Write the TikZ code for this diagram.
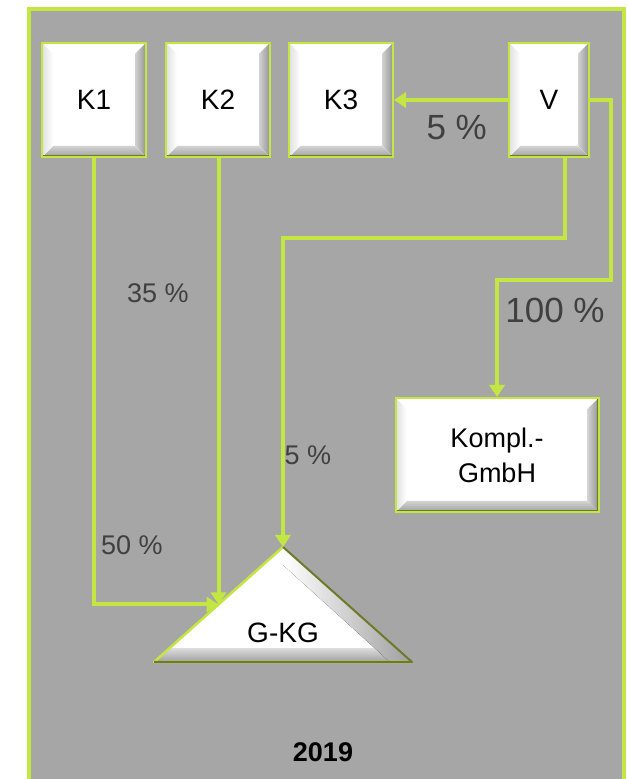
\documentclass[tikz,border=0pt]{standalone}
\usepackage{fontspec}
\setmainfont{Liberation Sans}
\usetikzlibrary{positioning,calc,arrows.meta}

\definecolor{framegreen}{RGB}{196,230,66}
\definecolor{bggray}{RGB}{166,166,166}
\definecolor{labelgray}{RGB}{64,64,64}
\definecolor{edgeolive}{RGB}{110,122,40}

\tikzset{
  firm/.style={draw=framegreen, line width=2pt, fill=white,
    minimum width=104pt, minimum height=114pt, inner sep=0pt,
    font=\fontsize{28}{35}\selectfont,
    path picture={
      \path (path picture bounding box.south west) coordinate (bsw)
            (path picture bounding box.north east) coordinate (bne);
      % bevel: bottom, right and left faces
      \fill[top color=gray!35, bottom color=gray!75]
        (bsw) -- (bsw -| bne) -- ($(bsw -| bne)+(-11,11)$) -- ($(bsw)+(11,11)$) -- cycle;
      \fill[left color=gray!35, right color=gray!85]
        (bsw -| bne) -- (bne) -- ($(bne)+(-11,-11)$) -- ($(bsw -| bne)+(-11,11)$) -- cycle;
      \fill[left color=gray!25, right color=white]
        (bsw) -- (bsw |- bne) -- ($(bsw |- bne)+(11,-11)$) -- ($(bsw)+(11,11)$) -- cycle;
      \draw[edgeolive, line width=3pt] (bsw) -- (bsw -| bne) -- (bne);
    }},
  link/.style={draw=framegreen, line width=4pt, -{Triangle[width=15pt,length=12pt]}},
  pct/.style={text=labelgray, font=\fontsize{27}{32}\selectfont},
  pct big/.style={text=labelgray, font=\fontsize{35}{40}\selectfont},
}

\begin{document}
\begin{tikzpicture}[x=1pt,y=1pt]
  \useasboundingbox (0,0) rectangle (627,779);
  \begin{scope}
    \clip (0,0) rectangle (627,779);
    \fill[bggray] (28.5,-5) rectangle (623.5,770);
    \draw[framegreen, line width=4pt] (28.5,-5) -- (28.5,770) -- (623.5,770) -- (623.5,-5);
  \end{scope}

  % shareholders
  \path (94,679) node[firm] (k1) {K1};
  \path node[firm, right=18pt of k1] (k2) {K2};
  \path node[firm, right=17pt of k2] (k3) {K3};
  \path node[firm, minimum width=80pt, right=114pt of k3] (v) {V};
  \path (497,324) node[firm, minimum width=203pt, align=center, font=\fontsize{27}{35}\selectfont] (kompl) {Kompl.-\\GmbH};

  % the KG triangle
  \path (154,117) coordinate (gkg left) (283,232) coordinate (gkg top) (412,117) coordinate (gkg right);
  \coordinate (gkg edge) at ($(gkg left)!.5!(gkg top)$);
  \fill[white] (gkg left) -- (gkg top) -- (gkg right) -- cycle;
  \begin{scope}
    \clip (gkg left) -- (gkg top) -- (gkg right) -- cycle;
    \fill[top color=gray!30, bottom color=gray!75] (gkg left) rectangle ($(gkg right)+(0,13)$);
    \fill[left color=white, right color=gray!75]
      (gkg top) -- (gkg right) -- ($(gkg right)+(-22,0)$) -- ($(gkg top)+(0,-18)$) -- cycle;
  \end{scope}
  \draw[framegreen, line width=2.5pt, line join=round] (gkg right) -- (gkg left) -- (gkg top);
  \draw[edgeolive, line width=2pt, line join=round] (gkg top) -- (gkg right) -- (gkg left);
  \node[font=\fontsize{28}{32}\selectfont] (gkg) at (283,146) {G-KG};

  % shares
  \draw[link] (v.west) -- node[pct big, below=10pt, pos=0.45] (p v k3) {5 \%} (k3.east);
  \draw[link] (v.east) -| ++(21,-180) -| (kompl.north);
  \node[pct big] (p v kompl) at (555,469) {100 \%};
  \draw[link] ([xshift=16pt]v.south) -- ++(0,-80) -| (gkg top);
  \node[pct] (p v gkg) at (308,324) {5 \%};
  \draw[link] (gkg edge |- k2.south) -- (gkg edge);
  \node[pct] (p k2) at (158,486) {35 \%};
  \draw[link] (k1.south) |- (gkg edge);
  \node[pct] (p k1) at (132,234) {50 \%};

  \node[font=\bfseries\fontsize{27}{32}\selectfont] (year) at (323,27) {2019};
\end{tikzpicture}
\end{document}
